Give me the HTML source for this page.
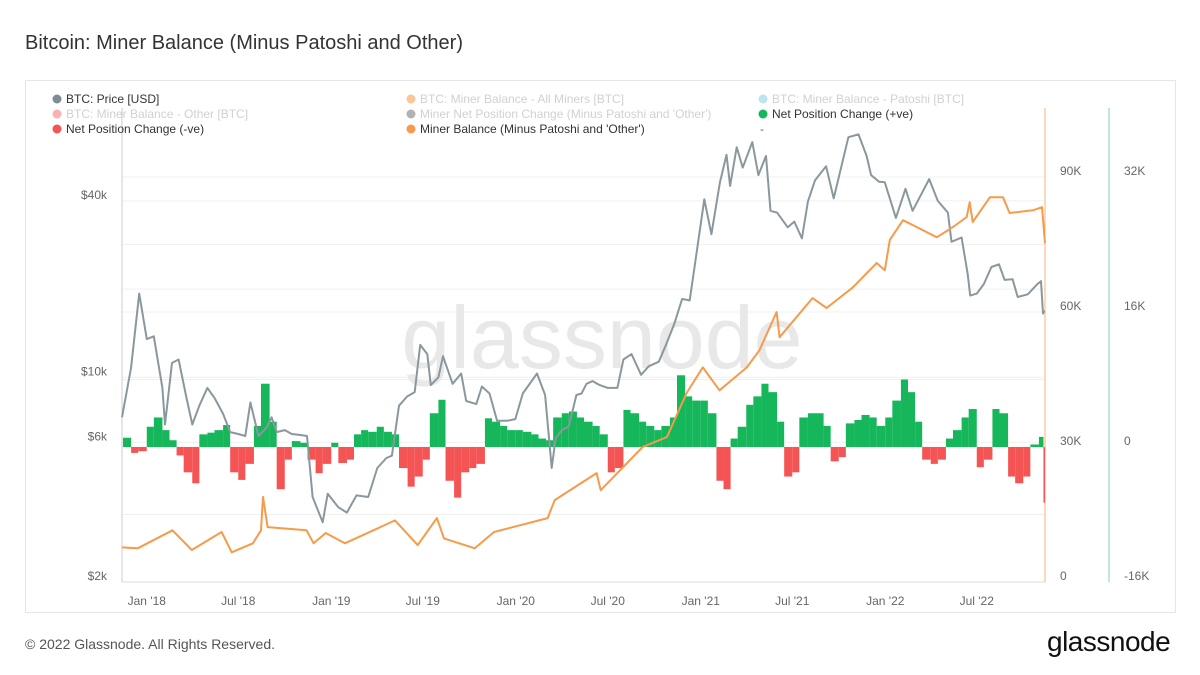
<!DOCTYPE html>
<html><head><meta charset="utf-8"><style>
body{margin:0;width:1200px;height:675px;background:#fff;font-family:"Liberation Sans",sans-serif;overflow:hidden;position:relative}
.t{position:absolute}
</style></head><body>
<div class="t" style="left:25px;top:32px;font-size:20px;color:#333">Bitcoin: Miner Balance (Minus Patoshi and Other)</div>
<div class="t" style="left:25px;top:80px;width:1149px;height:531px;border:1px solid #e6e6e6"></div>
<div class="t" style="left:25px;top:636px;font-size:14px;color:#555">© 2022 Glassnode. All Rights Reserved.</div>
<div class="t" style="left:1047px;top:626px;font-size:28px;color:#111;letter-spacing:-0.5px">glassnode</div>
<svg id="c" width="1200" height="675" style="position:absolute;left:0;top:0"></svg>
<script>
const priceDates=["2017-11-13","2017-12-01","2017-12-17","2018-01-01","2018-01-15","2018-02-01","2018-02-06","2018-02-20","2018-03-05","2018-03-20","2018-04-01","2018-04-15","2018-05-01","2018-05-15","2018-06-01","2018-06-15","2018-07-01","2018-07-15","2018-07-25","2018-08-10","2018-08-25","2018-09-05","2018-09-15","2018-10-01","2018-10-15","2018-11-01","2018-11-14","2018-11-25","2018-12-15","2018-12-25","2019-01-15","2019-02-01","2019-02-20","2019-03-15","2019-04-02","2019-04-20","2019-05-01","2019-05-15","2019-05-31","2019-06-15","2019-06-26","2019-07-10","2019-07-17","2019-08-01","2019-08-10","2019-08-29","2019-09-15","2019-09-25","2019-10-15","2019-10-26","2019-11-10","2019-11-25","2019-12-15","2019-12-31","2020-01-15","2020-02-12","2020-02-28","2020-03-12","2020-03-20","2020-04-01","2020-04-15","2020-04-30","2020-05-10","2020-05-20","2020-06-01","2020-06-15","2020-07-01","2020-07-20","2020-08-01","2020-08-17","2020-09-05","2020-09-20","2020-10-10","2020-10-25","2020-11-10","2020-11-25","2020-12-10","2020-12-20","2021-01-08","2021-01-22","2021-02-08","2021-02-21","2021-02-28","2021-03-13","2021-03-25","2021-04-13","2021-04-25","2021-05-10","2021-05-19","2021-06-01","2021-06-22","2021-07-05","2021-07-20","2021-08-01","2021-08-15","2021-09-06","2021-09-21","2021-10-05","2021-10-20","2021-11-09","2021-11-25","2021-12-04","2021-12-20","2021-12-31","2022-01-22","2022-02-10","2022-02-24","2022-03-29","2022-04-15","2022-05-05","2022-05-12","2022-06-01","2022-06-13","2022-06-18","2022-07-01","2022-07-15","2022-07-30","2022-08-14","2022-08-25","2022-09-10","2022-09-20","2022-10-10","2022-10-29","2022-11-05","2022-11-09","2022-11-12"];
const priceValues=[7300,10800,19300,13500,13800,9200,6900,11200,11500,8600,6900,8000,9200,8500,7500,6500,6400,6300,8200,6300,6700,7300,6500,6600,6400,6350,6300,3900,3200,4000,3600,3450,3950,3900,4900,5300,5400,8000,8600,8900,12900,12000,9400,10000,11800,9500,10300,8300,8100,9300,8800,7100,7100,7200,8800,10300,8700,4900,6200,6600,6800,8700,8800,9500,9700,9400,9200,9200,11500,12000,10200,10900,11300,13000,15300,18500,18300,24000,40500,30800,46400,57500,45000,61000,52000,63500,49000,57000,37000,36500,32500,34000,29800,39800,47000,52500,40800,51500,66000,67500,57000,49000,46500,46300,35000,44000,37000,47500,40000,36500,29000,30000,22500,19000,19300,20800,23800,24300,21500,21600,18800,19200,20800,21300,16500,16900];
const balDates=["2017-11-13","2017-12-14","2018-02-21","2018-03-31","2018-05-29","2018-06-18","2018-07-30","2018-08-15","2018-08-19","2018-08-28","2018-11-13","2018-11-27","2018-12-21","2019-01-28","2019-05-07","2019-06-21","2019-07-29","2019-08-12","2019-10-12","2019-11-19","2020-03-04","2020-03-18","2020-06-09","2020-06-17","2020-09-08","2020-10-26","2020-12-04","2021-01-05","2021-02-07","2021-04-02","2021-04-27","2021-05-31","2021-06-06","2021-08-10","2021-09-07","2021-10-29","2021-12-15","2021-12-31","2022-01-10","2022-02-05","2022-03-04","2022-04-13","2022-05-15","2022-06-11","2022-06-17","2022-06-23","2022-07-27","2022-08-22","2022-09-04","2022-10-20","2022-11-07","2022-11-13"];
const balValues=[7700,7500,11500,7100,11100,6600,8600,11500,18900,12200,11500,8600,10900,8600,13700,8200,14200,9700,7500,11100,14200,18200,24200,20400,30000,32200,42000,47700,42600,47700,51500,60000,54400,63100,60900,65500,70900,69300,76000,80400,78900,76600,78900,81100,84400,80000,85500,85500,82000,82600,83300,75300];
const netDates=["2017-11-15","2017-12-01","2017-12-15","2018-01-01","2018-01-15","2018-02-01","2018-02-15","2018-03-01","2018-03-15","2018-04-01","2018-04-15","2018-05-01","2018-05-15","2018-06-01","2018-06-15","2018-07-01","2018-07-15","2018-08-01","2018-08-15","2018-09-01","2018-09-15","2018-10-01","2018-10-15","2018-11-01","2018-11-15","2018-12-01","2018-12-15","2019-01-01","2019-01-15","2019-02-01","2019-02-15","2019-03-01","2019-03-15","2019-04-01","2019-04-15","2019-05-01","2019-05-15","2019-06-01","2019-06-15","2019-07-01","2019-07-15","2019-08-01","2019-08-15","2019-09-01","2019-09-15","2019-10-01","2019-10-15","2019-11-01","2019-11-15","2019-12-01","2019-12-15","2020-01-01","2020-01-15","2020-02-01","2020-02-15","2020-03-01","2020-03-15","2020-04-01","2020-04-15","2020-05-01","2020-05-15","2020-06-01","2020-06-15","2020-07-01","2020-07-15","2020-08-01","2020-08-15","2020-09-01","2020-09-15","2020-10-01","2020-10-15","2020-11-01","2020-11-15","2020-12-01","2020-12-15","2021-01-01","2021-01-15","2021-02-01","2021-02-15","2021-03-01","2021-03-15","2021-04-01","2021-04-15","2021-05-01","2021-05-15","2021-06-01","2021-06-15","2021-07-01","2021-07-15","2021-08-01","2021-08-15","2021-09-01","2021-09-15","2021-10-01","2021-10-15","2021-11-01","2021-11-15","2021-12-01","2021-12-15","2022-01-01","2022-01-15","2022-02-01","2022-02-15","2022-03-01","2022-03-15","2022-04-01","2022-04-15","2022-05-01","2022-05-15","2022-06-01","2022-06-15","2022-07-01","2022-07-15","2022-08-01","2022-08-15","2022-09-01","2022-09-15","2022-10-01","2022-10-15","2022-11-01","2022-11-10"];
const netValues=[1.1,-0.7,-0.5,2.4,3.5,2.0,0.8,-1.0,-3.0,-4.3,1.5,1.7,2.0,2.6,-3.0,-3.9,-2.0,2.5,7.5,3.0,-5.0,-1.5,0.7,0.5,-1.5,-3.1,-2.0,0.5,-1.9,-1.5,1.5,2.0,1.8,2.4,1.8,1.5,-2.5,-4.7,-3.5,-1.5,4.0,5.6,-4.0,-6.0,-3.0,-2.5,-2.0,3.4,3.0,2.5,2.0,2.0,1.8,1.5,1.0,0.8,3.5,4.0,4.2,3.5,3.0,2.5,1.5,-3.0,-2.5,4.4,4.0,3.0,2.5,2.0,2.5,3.5,8.5,6.0,5.5,5.5,4.0,-4.0,-5.0,1.0,2.4,5.0,6.0,7.5,6.5,3.0,-3.5,-3.0,3.5,4.0,4.0,2.5,-1.7,-1.2,2.8,3.2,3.8,3.5,2.5,3.5,5.5,8.0,6.5,3.0,-1.5,-2.0,-1.5,1.0,2.0,3.5,4.5,-2.4,-1.5,4.5,4.0,-3.5,-4.3,-3.5,0.3,1.2,-6.6];
const priceTicks=[2000,6000,10000,40000];
const priceTickLabels=["$2k","$6k","$10k","$40k"];
const balTicks=[0,30000,60000,90000];
const balTickLabels=["0","30K","60K","90K"];
const netTicks=[-16000,0,16000,32000];
const netTickLabels=["-16K","0","16K","32K"];
const xTickDates=["2018-01-01","2018-07-01","2019-01-01","2019-07-01","2020-01-01","2020-07-01","2021-01-01","2021-07-01","2022-01-01","2022-07-01"];
const xTickLabels=["Jan '18","Jul '18","Jan '19","Jul '19","Jan '20","Jul '20","Jan '21","Jul '21","Jan '22","Jul '22"];

const NS="http://www.w3.org/2000/svg", svg=document.getElementById('c');
const X0=122,X1=1045,T0=Date.parse("2017-11-13"),T1=Date.parse("2022-11-13");
const xS=d=>X0+(Date.parse(d)-T0)/(T1-T0)*(X1-X0);
const yP=p=>582-(Math.log10(p)-Math.log10(2000))*292.9;
const yB=v=>582-v*0.0045;
const yN=v=>447-v*270/32000;
function mk(tag,attrs,parent){const e=document.createElementNS(NS,tag);for(const k in attrs)e.setAttribute(k,attrs[k]);(parent||svg).appendChild(e);return e;}

const gB=[15000,45000,75000];
gB.concat(balTicks).forEach(v=>{const l=mk('line',{x1:X0,x2:X1,y1:yB(v),y2:yB(v),stroke:'#f0f0f0'});

});
priceTicks.concat([20000]).forEach(v=>{const l=mk('line',{x1:X0,x2:X1,y1:yP(v),y2:yP(v),stroke:'#f0f0f0'});

});

const wm=mk('text',{x:602,y:368,'text-anchor':'middle','font-size':88,fill:'#e8e8e8','font-family':'Liberation Sans, sans-serif'});
wm.textContent='glassnode';



const al=mk('line',{x1:X0,x2:X0,y1:108,y2:582,stroke:'#ccc'});


const bl=mk('line',{x1:X0,x2:X1,y1:582,y2:582,stroke:'#ddd'});


const ol=mk('line',{x1:X1,x2:X1,y1:108,y2:582,stroke:'#f9b27a'});


const gl=mk('line',{x1:1109,x2:1109,y1:108,y2:582,stroke:'#7fd3a3'});



netDates.forEach((d,i)=>{const x=xS(d);const xe=i+1<netDates.length?xS(netDates[i+1]):X1;const v=netValues[i]*1000;
const y=yN(v),y0=yN(0);
const r=mk('rect',{x:x,width:Math.max(0.5,xe-x),y:Math.min(y,y0),height:Math.abs(y-y0),fill:v>=0?'#16b65b':'#f55454'});

});

const pp=mk('path',{d:priceDates.map((d,i)=>(i?'L':'M')+xS(d).toFixed(1)+','+yP(priceValues[i]).toFixed(1)).join(''),fill:'none',stroke:'#8a989e','stroke-width':2,'stroke-linejoin':'round'});


const bp=mk('path',{d:balDates.map((d,i)=>(i?'L':'M')+xS(d).toFixed(1)+','+yB(balValues[i]).toFixed(1)).join(''),fill:'none',stroke:'#f79a4a','stroke-width':2,'stroke-linejoin':'round'});



function lab(x,y,s,anchor,name){const t=mk('text',{x:x,y:y,'font-size':12,fill:'#666','text-anchor':anchor,'font-family':'Liberation Sans, sans-serif'});t.textContent=s;

}
priceTicks.forEach((v,i)=>lab(107,yP(v)-2,priceTickLabels[i],'end','price-tick-label'));
balTicks.forEach((v,i)=>lab(1060,yB(v)-2,balTickLabels[i],'start','balance-tick-label'));
netTicks.forEach((v,i)=>lab(1124,yN(v)-2,netTickLabels[i],'start','net-tick-label'));
xTickDates.forEach((d,i)=>lab(xS(d),605,xTickLabels[i],'middle','x-tick-label'));

const legNames=["BTC: Price [USD]","BTC: Miner Balance - All Miners [BTC]","BTC: Miner Balance - Patoshi [BTC]","BTC: Miner Balance - Other [BTC]","Miner Net Position Change (Minus Patoshi and 'Other')","Net Position Change (+ve)","Net Position Change (-ve)","Miner Balance (Minus Patoshi and 'Other')"];
const legColors=["#7f8c93","#f7801f","#6cc4dc","#f55454","#555","#16b65b","#f55454","#f79a4a"];
const legActive=[1,0,0,0,0,1,1,1];
legNames.forEach((n,i)=>{const col=i%3,row=Math.floor(i/3);const x=[57,411,763][col],y=99+row*15;
const g=mk('g',{opacity:legActive[i]?1:0.45});


mk('circle',{cx:x,cy:y,r:4.5,fill:legColors[i]},g);
const t=mk('text',{x:x+9,y:y+4,'font-size':12,fill:legActive[i]?'#333':'#999','font-family':'Liberation Sans, sans-serif'},g);t.textContent=n;});
lab(760,133,'-','start','legend-placeholder');
</script>
</body></html>
